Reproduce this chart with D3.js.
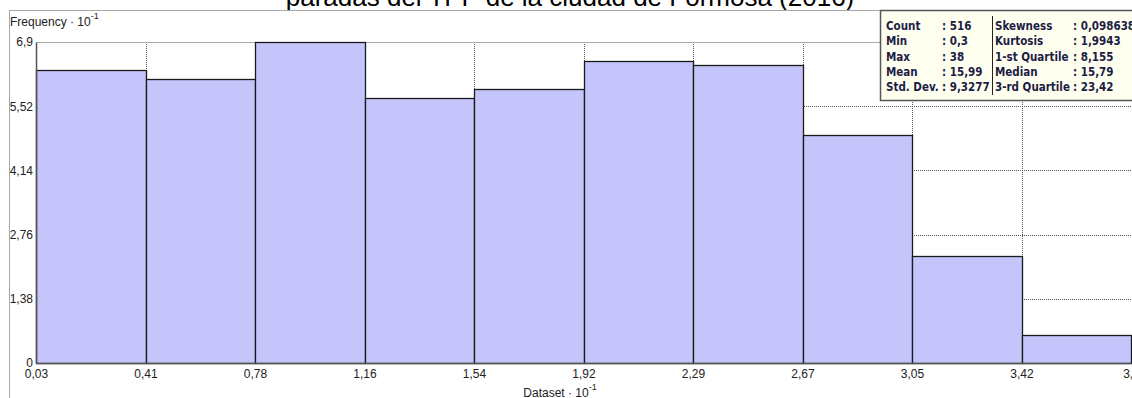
<!DOCTYPE html>
<html>
<head>
<meta charset="utf-8">
<script src="https://cdn.jsdelivr.net/npm/d3@7"></script>
<style>
  body { margin: 0; background: #fff; }
  svg { display: block; }
</style>
</head>
<body>
<div id="chart"></div>
<script>
// histogram data, values in units of 10
const binEdges = [0.03, 0.407, 0.784, 1.161, 1.538, 1.915, 2.292, 2.669, 3.046, 3.423, 3.8];
const binCounts = [63, 61, 69, 57, 59, 65, 64, 49, 23, 6];
const xTickLabels = ['0,03', '0,41', '0,78', '1,16', '1,54', '1,92', '2,29', '2,67', '3,05', '3,42', '3,8'];
const yTicks = [0, 1.38, 2.76, 4.14, 5.52, 6.9];
const yTickLabels = ['0', '1,38', '2,76', '4,14', '5,52', '6,9'];
const statsLeft = [['Count', ': 516'], ['Min', ': 0,3'], ['Max', ': 38'], ['Mean', ': 15,99'], ['Std. Dev.', ': 9,3277']];
const statsRight = [['Skewness', ': 0,098638'], ['Kurtosis', ': 1,9943'], ['1-st Quartile', ': 8,155'], ['Median', ': 15,79'], ['3-rd Quartile', ': 23,42']];
const title = 'paradas del TPP de la ciudad de Formosa (2016)';

const W = 1132, H = 398;
const plot = { left: 36, right: 1131, top: 42, bottom: 363 };

const svg = d3.select('#chart').append('svg')
  .attr('width', W)
  .attr('height', H)
  .style('font-family', '"Liberation Sans", Arial, sans-serif');

// title (mostly cut off at top)
svg.append('text')
  .attr('x', 570)
  .attr('y', 6)
  .attr('text-anchor', 'middle')
  .attr('font-size', 26)
  .attr('fill', '#000')
  .text(title);

// outer panel frame
svg.append('rect')
  .attr('x', 9.5).attr('y', 10.5)
  .attr('width', W).attr('height', H)
  .attr('fill', '#fff')
  .attr('stroke', '#a8a8a8');

const x = d3.scaleLinear().domain([binEdges[0], binEdges[binEdges.length - 1]]).range([plot.left, plot.right]);
const y = d3.scaleLinear().domain([0, 6.9]).range([plot.bottom, plot.top]);

// grid
const grid = svg.append('g').attr('class', 'grid');
grid.selectAll('.vgrid')
  .data(binEdges.slice(1, -1))
  .enter().append('line')
  .attr('class', 'vgrid')
  .attr('x1', d => Math.round(x(d)) + 0.5).attr('x2', d => Math.round(x(d)) + 0.5)
  .attr('y1', plot.top).attr('y2', plot.bottom)
  .attr('stroke', '#555').attr('stroke-dasharray', '1,1');
grid.selectAll('.hgrid')
  .data(yTicks.slice(1, -1))
  .enter().append('line')
  .attr('class', 'hgrid')
  .attr('x1', plot.left).attr('x2', plot.right)
  .attr('y1', d => Math.round(y(d)) + 0.5).attr('y2', d => Math.round(y(d)) + 0.5)
  .attr('stroke', '#555').attr('stroke-dasharray', '1,1');

// top border of plot
svg.append('line')
  .attr('x1', plot.left).attr('x2', W)
  .attr('y1', plot.top + 0.5).attr('y2', plot.top + 0.5)
  .attr('stroke', '#aaa');

// bars
const bins = binCounts.map((c, i) => ({ x0: binEdges[i], x1: binEdges[i + 1], v: c / 10 }));
svg.append('g').selectAll('rect')
  .data(bins)
  .enter().append('rect')
  .attr('x', d => Math.round(x(d.x0)) + 0.5)
  .attr('y', d => Math.round(y(d.v)) + 0.5)
  .attr('width', d => Math.round(x(d.x1)) - Math.round(x(d.x0)))
  .attr('height', d => Math.round(y(0)) - Math.round(y(d.v)))
  .attr('fill', '#c5c5fb')
  .attr('stroke', '#1a1a1a')
  .attr('stroke-width', 1.3);

// axes
const xAxis = d3.axisBottom(x)
  .tickValues(binEdges)
  .tickFormat((d, i) => xTickLabels[i])
  .tickSize(0)
  .tickPadding(6);
const gx = svg.append('g')
  .attr('transform', `translate(0,${plot.bottom})`)
  .call(xAxis);
gx.select('.domain').attr('stroke', '#555').attr('stroke-width', 1.5);
gx.selectAll('text').attr('font-size', 12).attr('fill', '#222').attr('font-family', '"Liberation Sans", Arial, sans-serif');

const yAxis = d3.axisLeft(y)
  .tickValues(yTicks)
  .tickFormat((d, i) => yTickLabels[i])
  .tickSize(0)
  .tickPadding(3);
const gy = svg.append('g')
  .attr('transform', `translate(${plot.left},0)`)
  .call(yAxis);
gy.select('.domain').attr('stroke', '#555').attr('stroke-width', 1.5);
gy.selectAll('text').attr('font-size', 12).attr('fill', '#222').attr('font-family', '"Liberation Sans", Arial, sans-serif');

// axis titles
const yTitle = svg.append('text').attr('x', 10).attr('y', 26).attr('font-size', 12).attr('fill', '#222');
yTitle.append('tspan').text('Frequency · 10');
yTitle.append('tspan').attr('dy', -7).attr('font-size', 9).text('-1');

const xTitle = svg.append('text').attr('x', 560).attr('y', 397).attr('font-size', 12).attr('fill', '#222').attr('text-anchor', 'middle');
xTitle.append('tspan').text('Dataset · 10');
xTitle.append('tspan').attr('dy', -7).attr('font-size', 9).text('-1');

// statistics box
const box = svg.append('g').attr('transform', 'translate(880,10)');
box.append('rect')
  .attr('x', 0.5).attr('y', 0.5)
  .attr('width', 260).attr('height', 90)
  .attr('fill', '#fffff0')
  .attr('stroke', '#555')
  .attr('stroke-width', 1.5);
box.append('line')
  .attr('x1', 112.5).attr('x2', 112.5)
  .attr('y1', 6).attr('y2', 85)
  .attr('stroke', '#222');
const statFont = '"DejaVu Sans Condensed", "Liberation Sans Narrow", sans-serif';
const rowY = i => 20 + i * 15.3;
const addCol = (data, xLabel, xValue) => {
  const g = box.append('g')
    .attr('font-family', statFont)
    .attr('font-weight', 'bold')
    .attr('font-size', 11.5)
    .attr('fill', '#1c1c44');
  g.selectAll('.lab').data(data).enter().append('text')
    .attr('x', xLabel).attr('y', (d, i) => rowY(i)).text(d => d[0]);
  g.selectAll('.val').data(data).enter().append('text')
    .attr('x', xValue).attr('y', (d, i) => rowY(i)).text(d => d[1]);
};
addCol(statsLeft, 6, 62);
addCol(statsRight, 115, 193);
</script>
</body>
</html>
